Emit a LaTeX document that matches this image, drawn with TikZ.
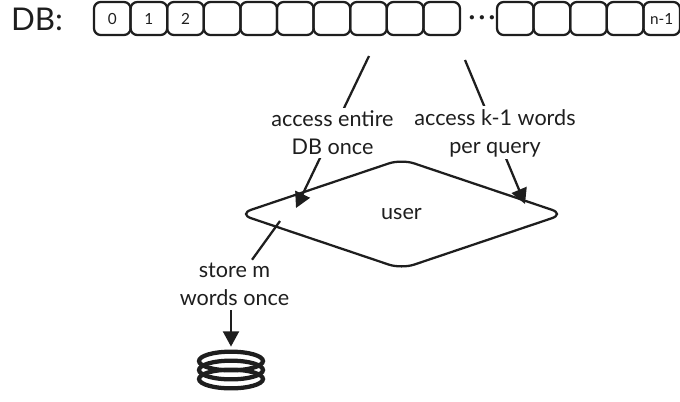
\documentclass[tikz,border=0pt]{standalone}
\usepackage{fontspec}
\setmainfont{Lato}
\usetikzlibrary{positioning,arrows.meta,shapes.geometric}
\definecolor{ink}{HTML}{1E1E1E}
\tikzset{x=0.75pt,y=-0.75pt,
    every node/.style={text=ink},
    cell/.style={draw=ink,line width=1.7pt,rounded corners=5pt,outer sep=0pt,
        minimum width=27.45pt,minimum height=24.75pt,inner sep=0pt,font=\fontsize{11.5}{12}\selectfont},
    flow/.style={draw=ink,line width=1.7pt},
    arrow/.style={flow,-{Triangle[length=11.5pt,width=12pt]}},
    label/.style={align=center,fill=white,inner sep=2pt,font=\fontsize{16.2}{21}\selectfont},
    ring/.style={draw=ink,line width=3.2pt,ellipse,minimum width=48pt,minimum height=14pt,inner sep=0pt},
    }

\begin{document}
\begin{tikzpicture}
\useasboundingbox (0,0) rectangle (680,401);
\node[font=\fontsize{23.5}{24}\selectfont] (db) at (37,19) {DB:};

% cells of the database
\node[cell] (c0) at (112.3,18.5) {0};
\node[cell,right=0pt of c0] (c1) {1};
\node[cell,right=0pt of c1] (c2) {2};
\foreach \i [count=\j from 2] in {3,...,9}
    \node[cell,right=0pt of c\j] (c\i) {};
\node[font=\bfseries\fontsize{17}{17}\selectfont,inner sep=0pt] (dots) at (482,20) {\textperiodcentered\,\textperiodcentered\,\textperiodcentered};
\node[cell] (d0) at (515.3,18.5) {};
\foreach \i [count=\j from 0] in {1,2,3}
    \node[cell,right=0pt of d\j] (d\i) {};
\node[cell,right=0pt of d3] (last) {n-1};

\node[diamond,draw=ink,line width=1.7pt,rounded corners=10pt,aspect=2.95,inner sep=0pt,
    minimum width=245pt,minimum height=83pt,font=\fontsize{16.2}{21}\selectfont] (user) at (401.5,214) {user};

\coordinate (entirefrom) at (369,56);
\coordinate (entireto) at (296,208);
\coordinate (wordsfrom) at (465,60);
\coordinate (wordsto) at (525,204);
\draw[arrow] (entirefrom) -- node[label,yshift=-0.7pt] (entire) {access entire\\DB once} (entireto);
\draw[arrow] (wordsfrom) -- node[label,yshift=-0.7pt] (words) {access k-1 words\\per query} (wordsto);

% the store below the user
\node[label] (store) at (234.5,284) {store m\\words once};
\coordinate (storefrom) at (280,221);
\draw[flow] (storefrom) -- (store);
\node[ring] (r3) at (231,379) {};
\node[ring] (r2) at (231,370) {};
\node[ring] (r1) at (231,361) {};
\draw[arrow,shorten <=1.5pt,shorten >=2.2pt] (store.south -| r1) -- (r1);
\end{tikzpicture}
\end{document}
